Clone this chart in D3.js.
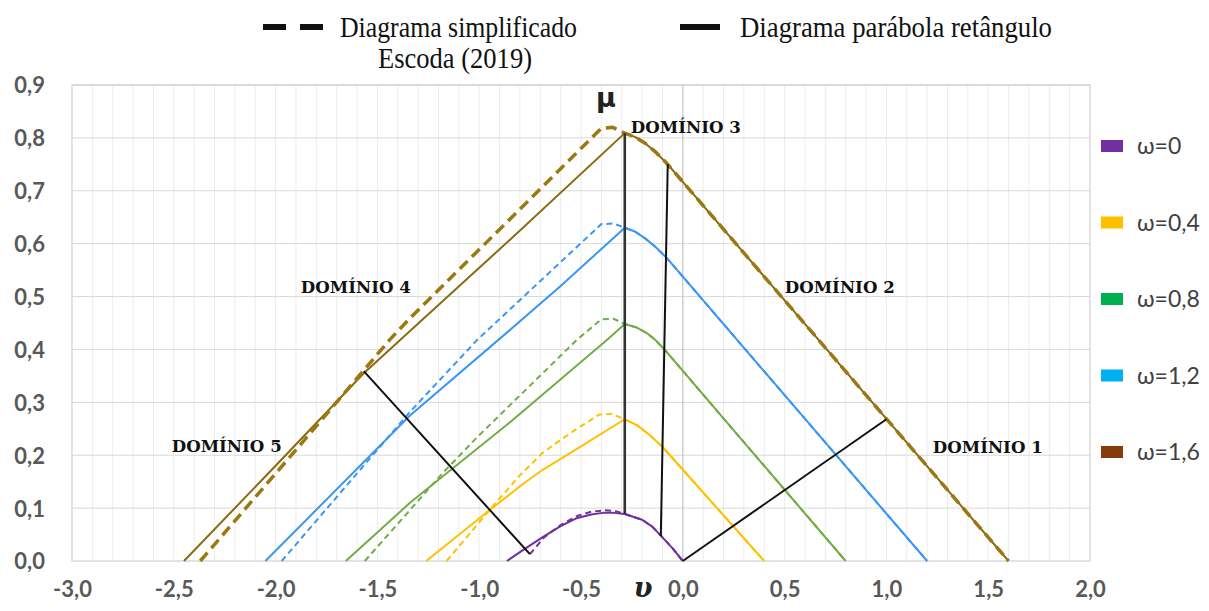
<!DOCTYPE html>
<html>
<head>
<meta charset="utf-8">
<script src="https://cdn.jsdelivr.net/npm/d3@7"></script>
<style>
  body { margin: 0; background: #fff; }
  svg { display: block; }
</style>
</head>
<body>
<script>
let width = 1209;
let height = 611;

// axis ticks
const xTicks = [-3.0, -2.5, -2.0, -1.5, -1.0, -0.5, 0.0, 0.5, 1.0, 1.5, 2.0];
const yTicks = [0.0, 0.1, 0.2, 0.3, 0.4, 0.5, 0.6, 0.7, 0.8, 0.9];

// omega values of the families of curves
const omegas = ["ω=0", "ω=0,4", "ω=0,8", "ω=1,2", "ω=1,6"];

// parabola-rectangle diagram (solid), [nu, mu]
const pr00 = [[-0.864, 0], [-0.78, 0.022], [-0.688, 0.045], [-0.6, 0.066], [-0.521, 0.081], [-0.45, 0.088],
              [-0.393, 0.091], [-0.34, 0.091], [-0.285, 0.089], [-0.2, 0.078], [-0.15, 0.065], [-0.108, 0.048],
              [-0.05, 0.024], [0, 0]];
const pr04 = [[-1.26, 0], [-0.95, 0.096], [-0.78, 0.147], [-0.69, 0.172], [-0.52, 0.212], [-0.285, 0.268],
              [-0.222, 0.256], [-0.162, 0.238], [-0.098, 0.215], [0.4, 0]];
const pr08 = [[-1.655, 0], [-1.34, 0.11], [-0.85, 0.262], [-0.373, 0.418], [-0.285, 0.448], [-0.23, 0.442],
              [-0.177, 0.431], [-0.135, 0.418], [-0.088, 0.399], [0.8, 0]];
const pr12 = [[-2.05, 0], [-1.34, 0.275], [-0.9, 0.42], [-0.6, 0.52], [-0.285, 0.63], [-0.235, 0.623],
              [-0.185, 0.61], [-0.135, 0.594], [-0.079, 0.573], [1.2, 0]];
const pr16 = [[-2.45, 0], [-2.0, 0.18], [-1.567, 0.355], [-1.34, 0.435], [-0.85, 0.607], [-0.285, 0.809],
              [-0.235, 0.802], [-0.185, 0.79], [-0.13, 0.772], [-0.074, 0.75], [1.6, 0]];

// simplified diagram, Escoda (2019) (dashed)
const es00 = [[-0.751, 0.013], [-0.68, 0.045], [-0.6, 0.068], [-0.52, 0.085], [-0.45, 0.093], [-0.38, 0.096],
              [-0.33, 0.094], [-0.285, 0.089], [-0.2, 0.078], [-0.15, 0.065], [-0.108, 0.048], [-0.05, 0.024], [0, 0]];
const es04 = [[-1.16, 0], [-0.95, 0.096], [-0.8, 0.162], [-0.69, 0.204], [-0.6, 0.229], [-0.52, 0.25],
              [-0.41, 0.277], [-0.35, 0.278], [-0.285, 0.268], [-0.222, 0.256], [-0.162, 0.238], [-0.098, 0.215], [0.4, 0]];
const es08 = [[-1.562, 0], [-1.18, 0.166], [-1.01, 0.234], [-0.521, 0.418], [-0.40, 0.457], [-0.34, 0.458],
              [-0.285, 0.448], [-0.23, 0.442], [-0.177, 0.431], [-0.135, 0.418], [-0.088, 0.399], [0.8, 0]];
const es12 = [[-1.97, 0], [-1.34, 0.282], [-1.01, 0.418], [-0.40, 0.637], [-0.34, 0.638], [-0.285, 0.63],
              [-0.235, 0.623], [-0.185, 0.61], [-0.135, 0.594], [-0.079, 0.573], [1.2, 0]];
const es16 = [[-2.37, 0], [-1.9, 0.21], [-1.44, 0.418], [-1.34, 0.459], [-0.40, 0.818], [-0.344, 0.82],
              [-0.285, 0.809], [-0.235, 0.802], [-0.185, 0.79], [-0.13, 0.772], [-0.074, 0.75], [1.6, 0]];

// domain boundaries (black lines)
const frontiers = [
  [[-1.567, 0.359], [-0.751, 0.013]],
  [[-0.285, 0.809], [-0.285, 0.089]],
  [[-0.074, 0.75], [-0.108, 0.047]],
  [[0, 0], [1.0, 0.268]]
];

// domain labels: [text, nu, mu]
const domainLabels = [
  ["DOMÍNIO 1", 1.498, 0.204],
  ["DOMÍNIO 2", 0.771, 0.507],
  ["DOMÍNIO 3", 0.015, 0.809],
  ["DOMÍNIO 4", -1.606, 0.507],
  ["DOMÍNIO 5", -2.240, 0.206]
];

const lineColors = ["#7030a0", "#ffc000", "#70ad47", "#3a96f4", "#8a6a12"];
const legendColors = ["#7030a0", "#ffc000", "#00b050", "#00b0f0", "#843c0c"];

const solids = [pr00, pr04, pr08, pr12, pr16];
const dashed = [es00, es04, es08, es12, es16];

let svg = d3.select("body").append("svg")
            .attr("width", width)
            .attr("height", height);

let x = d3.scaleLinear().domain([-3, 2]).range([72, 1090]);
let y = d3.scaleLinear().domain([0, 0.9]).range([561, 85]);

function fmt(d) {
  return (d < 0 ? "-" : "") + Math.abs(d).toFixed(1).replace(".", ",");
}

// grid
let grid = svg.append("g");
grid.selectAll("line.minor")
    .data(d3.range(-29, 20).map(i => i / 10))
    .enter().append("line")
    .attr("x1", d => x(d)).attr("x2", d => x(d))
    .attr("y1", y(0)).attr("y2", y(0.9))
    .attr("stroke", "#ececec").attr("stroke-width", 1);
grid.selectAll("line.h")
    .data(yTicks.slice(1))
    .enter().append("line")
    .attr("x1", x(-3)).attr("x2", x(2))
    .attr("y1", d => y(d)).attr("y2", d => y(d))
    .attr("stroke", "#d9d9d9").attr("stroke-width", 1);
grid.append("line")
    .attr("x1", x(0)).attr("x2", x(0))
    .attr("y1", y(0)).attr("y2", y(0.9))
    .attr("stroke", "#bfbfbf").attr("stroke-width", 1);
grid.append("rect")
    .attr("x", x(-3)).attr("y", y(0.9))
    .attr("width", x(2) - x(-3)).attr("height", y(0) - y(0.9))
    .attr("fill", "none").attr("stroke", "#d0d0d0").attr("stroke-width", 1.2);

// axes
let xAxis = svg.append("g")
    .attr("transform", "translate(0," + y(0) + ")")
    .call(d3.axisBottom(x).tickValues(xTicks).tickFormat(fmt).tickSize(0).tickPadding(20));
let yAxis = svg.append("g")
    .attr("transform", "translate(" + x(-3) + ",0)")
    .call(d3.axisLeft(y).tickValues(yTicks).tickFormat(fmt).tickSize(0).tickPadding(27));
[xAxis, yAxis].forEach(function(a) {
  a.select(".domain").remove();
  a.selectAll("text")
   .attr("fill", "#595959")
   .style("font-family", "Lato, 'Open Sans', sans-serif")
   .style("font-weight", "bold")
   .style("font-size", "22px");
});
yAxis.selectAll("text").attr("dy", "0.36em");

// curves
let line = d3.line()
    .x(d => x(d[0]))
    .y(d => y(d[1]));

let curves = svg.append("g").attr("fill", "none").attr("stroke-linejoin", "round");
curves.selectAll("path.solid")
    .data(solids)
    .enter().append("path")
    .attr("d", line)
    .attr("stroke", (d, i) => lineColors[i])
    .attr("stroke-width", 2);
curves.selectAll("path.dash")
    .data(dashed)
    .enter().append("path")
    .attr("d", line)
    .attr("stroke", (d, i) => i == 4 ? "#9b7812" : lineColors[i])
    .attr("stroke-width", (d, i) => i == 4 ? 3.5 : 2)
    .attr("stroke-dasharray", (d, i) => i == 4 ? "11,6" : "6,4");

// domain boundaries
svg.append("g")
   .selectAll("path")
   .data(frontiers)
   .enter().append("path")
   .attr("d", line)
   .attr("fill", "none")
   .attr("stroke", (d, i) => i == 1 ? "#333" : "#111")
   .attr("stroke-width", (d, i) => i == 1 ? 2.6 : 2);

// domain labels
svg.append("g")
   .selectAll("text")
   .data(domainLabels)
   .enter().append("text")
   .attr("x", d => x(d[1]))
   .attr("y", d => y(d[2]))
   .attr("text-anchor", "middle")
   .attr("textLength", 110)
   .attr("lengthAdjust", "spacingAndGlyphs")
   .style("font-family", "'DejaVu Serif', 'Liberation Serif', serif")
   .style("font-weight", "bold")
   .style("font-size", "17px")
   .attr("fill", "#111")
   .text(d => d[0]);

// axis symbols
svg.append("text")
   .attr("x", 606).attr("y", 107)
   .attr("text-anchor", "middle")
   .style("font-family", "'DejaVu Sans', sans-serif")
   .style("font-weight", "bold")
   .style("font-size", "27px")
   .attr("fill", "#222")
   .text("μ");
svg.append("text")
   .attr("x", 643).attr("y", 597)
   .attr("text-anchor", "middle")
   .style("font-family", "'DejaVu Serif', serif")
   .style("font-weight", "bold")
   .style("font-style", "italic")
   .style("font-size", "27px")
   .attr("fill", "#222")
   .text("υ");

// top legend
let topLegend = svg.append("g").style("font-family", "'Liberation Serif', serif").style("font-size", "30px").attr("fill", "#111");
topLegend.append("line").attr("x1", 263).attr("x2", 286).attr("y1", 27).attr("y2", 27)
   .attr("stroke", "#111").attr("stroke-width", 6);
topLegend.append("line").attr("x1", 300).attr("x2", 323).attr("y1", 27).attr("y2", 27)
   .attr("stroke", "#111").attr("stroke-width", 6);
topLegend.append("text").attr("x", 340).attr("y", 37).attr("textLength", 237)
   .attr("lengthAdjust", "spacingAndGlyphs").text("Diagrama simplificado");
topLegend.append("text").attr("x", 378).attr("y", 68).attr("textLength", 154)
   .attr("lengthAdjust", "spacingAndGlyphs").text("Escoda (2019)");
topLegend.append("line").attr("x1", 680).attr("x2", 720).attr("y1", 27).attr("y2", 27)
   .attr("stroke", "#111").attr("stroke-width", 6);
topLegend.append("text").attr("x", 740).attr("y", 37).attr("textLength", 312)
   .attr("lengthAdjust", "spacingAndGlyphs").text("Diagrama parábola retângulo");

// right legend
let legend = svg.append("g")
    .selectAll("g")
    .data(omegas)
    .enter().append("g")
    .attr("transform", (d, i) => "translate(1101," + (146 + i * 76.5) + ")");
legend.append("rect")
    .attr("x", 0).attr("y", -6)
    .attr("width", 22).attr("height", 12)
    .attr("fill", (d, i) => legendColors[i]);
legend.append("text")
    .attr("x", 36).attr("y", 0).attr("dy", "0.36em")
    .style("font-family", "Lato, 'Open Sans', sans-serif")
    .style("font-size", "23px")
    .attr("fill", "#404040")
    .text(d => d);
</script>
</body>
</html>
